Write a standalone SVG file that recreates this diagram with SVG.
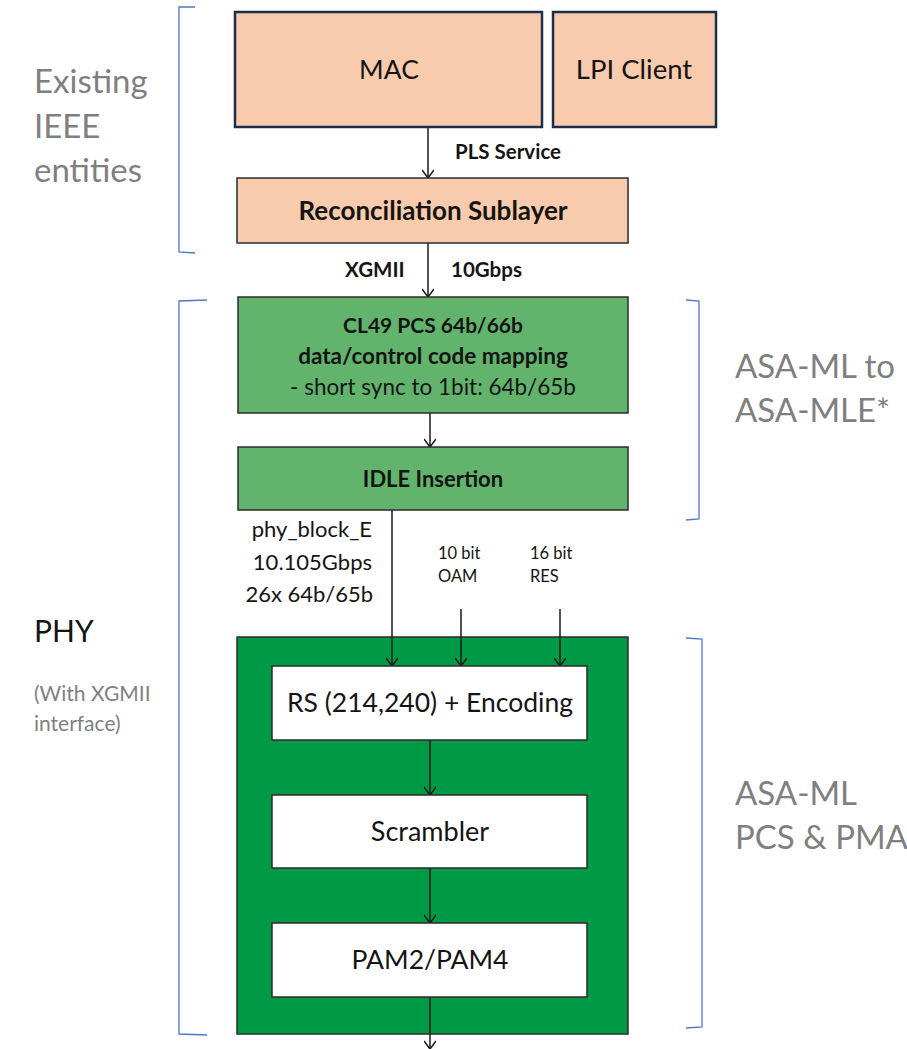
<svg xmlns="http://www.w3.org/2000/svg" width="907" height="1049" viewBox="0 0 907 1049">
  <defs>
    <marker id="vhead" markerWidth="16" markerHeight="12" refX="14" refY="6" orient="auto" markerUnits="userSpaceOnUse">
      <path d="M6,0 L14,6 L6,12" fill="none" stroke="#1a1a1a" stroke-width="1.5"/>
    </marker>
    <style>
      .peach { fill: #f8cbad; }
      .lgreen { fill: #62b46d; stroke: #2b2b2b; stroke-width: 1.5; }
      .dgreen { fill: #009a46; stroke: #2b2b2b; stroke-width: 1.5; }
      .white { fill: #ffffff; stroke: #2b2b2b; stroke-width: 1.5; }
      .navy { stroke: #1f2d4d; stroke-width: 2.5; }
      .dark { stroke: #2b2b2b; stroke-width: 1.5; }
      .t { font-family: Lato, "Liberation Sans", sans-serif; fill: #141414; }
      .b { font-weight: bold; }
      .c { text-anchor: middle; }
      .grey { font-family: Lato, "Liberation Sans", sans-serif; fill: #7f7f7f; }
      .brace { fill: none; stroke: #4a78cc; stroke-width: 1.3; }
      .wire { fill: none; stroke: #1a1a1a; stroke-width: 1.5; }
    </style>
  </defs>

  <rect width="907" height="1049" fill="#ffffff"/>

  <!-- side annotations -->
  <g id="label-existing">
    <path class="brace" d="M195,7 L179,7 L179,252 L195,253"/>
    <text class="grey" font-size="33" x="34" y="93">Existing</text>
    <text class="grey" font-size="33" x="34" y="138">IEEE</text>
    <text class="grey" font-size="33" x="34" y="182">entities</text>
  </g>
  <g id="label-phy">
    <path class="brace" d="M207,300 L179,301 L179,1034 L207,1035"/>
    <text class="t" font-size="30" x="34" y="642">PHY</text>
    <text class="grey" font-size="21" x="34" y="701">(With XGMII</text>
    <text class="grey" font-size="21" x="34" y="731">interface)</text>
  </g>
  <g id="label-asa-mle">
    <path class="brace" d="M686,300 L699,301 L699,519 L686,520"/>
    <text class="grey" font-size="33" x="735" y="378">ASA-ML to</text>
    <text class="grey" font-size="33" x="735" y="422">ASA-MLE*</text>
  </g>
  <g id="label-asa-ml">
    <path class="brace" d="M686,638 L702,639 L702,1027 L686,1028"/>
    <text class="grey" font-size="33" x="735" y="805">ASA-ML</text>
    <text class="grey" font-size="33" x="735" y="849">PCS &amp; PMA</text>
  </g>

  <!-- outer PCS/PMA container -->
  <g id="pcs-pma">
    <rect class="dgreen" x="237" y="637" width="391" height="397"/>
  </g>

  <!-- connectors -->
  <g id="connectors">
    <line class="wire" x1="428" y1="127" x2="428" y2="178" marker-end="url(#vhead)"/>
    <line class="wire" x1="428" y1="243" x2="428" y2="297" marker-end="url(#vhead)"/>
    <line class="wire" x1="430" y1="413" x2="430" y2="447" marker-end="url(#vhead)"/>
    <line class="wire" x1="392" y1="510" x2="392" y2="666" marker-end="url(#vhead)"/>
    <line class="wire" x1="461" y1="609" x2="461" y2="666" marker-end="url(#vhead)"/>
    <line class="wire" x1="560" y1="609" x2="560" y2="666" marker-end="url(#vhead)"/>
    <line class="wire" x1="430" y1="740" x2="430" y2="795" marker-end="url(#vhead)"/>
    <line class="wire" x1="430" y1="868" x2="430" y2="923" marker-end="url(#vhead)"/>
    <line class="wire" x1="430" y1="997" x2="430" y2="1049" marker-end="url(#vhead)"/>
    <text class="t b" font-size="20.5" x="455" y="159">PLS Service</text>
    <text class="t b" font-size="20.5" x="345" y="277">XGMII</text>
    <text class="t b" font-size="20.5" x="451" y="277">10Gbps</text>
    <text class="t" font-size="22" x="372" y="537" text-anchor="end">phy_block_E</text>
    <text class="t" font-size="22" x="372" y="570" text-anchor="end">10.105Gbps</text>
    <text class="t" font-size="22" x="373" y="602" text-anchor="end">26x 64b/65b</text>
    <text class="t" font-size="16.5" x="438" y="559">10 bit</text>
    <text class="t" font-size="16.5" x="438" y="582">OAM</text>
    <text class="t" font-size="16.5" x="530" y="559">16 bit</text>
    <text class="t" font-size="16.5" x="530" y="582">RES</text>
  </g>

  <!-- nodes -->
  <g id="mac">
    <rect class="peach navy" x="235" y="12" width="307" height="115"/>
    <text class="t c" font-size="26.5" x="389" y="79">MAC</text>
  </g>
  <g id="lpi-client">
    <rect class="peach navy" x="553" y="12" width="163" height="115"/>
    <text class="t c" font-size="27.5" x="634" y="79">LPI Client</text>
  </g>
  <g id="reconciliation">
    <rect class="peach dark" x="237" y="178" width="391" height="65"/>
    <text class="t b c" font-size="26" x="433" y="220">Reconciliation Sublayer</text>
  </g>
  <g id="cl49-pcs">
    <rect class="lgreen" x="238" y="297" width="390" height="116"/>
    <text class="t b c" font-size="21" x="433" y="333">CL49 PCS 64b/66b</text>
    <text class="t b c" font-size="22.5" x="433" y="364">data/control code mapping</text>
    <text class="t c" font-size="22.5" x="433" y="395">- short sync to 1bit: 64b/65b</text>
  </g>
  <g id="idle-insertion">
    <rect class="lgreen" x="238" y="447" width="390" height="63"/>
    <text class="t b c" font-size="22" x="433" y="487">IDLE Insertion</text>
  </g>
  <g id="rs-encoding">
    <rect class="white" x="272" y="666" width="315" height="74"/>
    <text class="t c" font-size="26.5" x="430" y="712">RS (214,240) + Encoding</text>
  </g>
  <g id="scrambler">
    <rect class="white" x="272" y="795" width="315" height="73"/>
    <text class="t c" font-size="27" x="430" y="841">Scrambler</text>
  </g>
  <g id="pam">
    <rect class="white" x="272" y="923" width="315" height="74"/>
    <text class="t c" font-size="26.5" x="430" y="969">PAM2/PAM4</text>
  </g>
</svg>
